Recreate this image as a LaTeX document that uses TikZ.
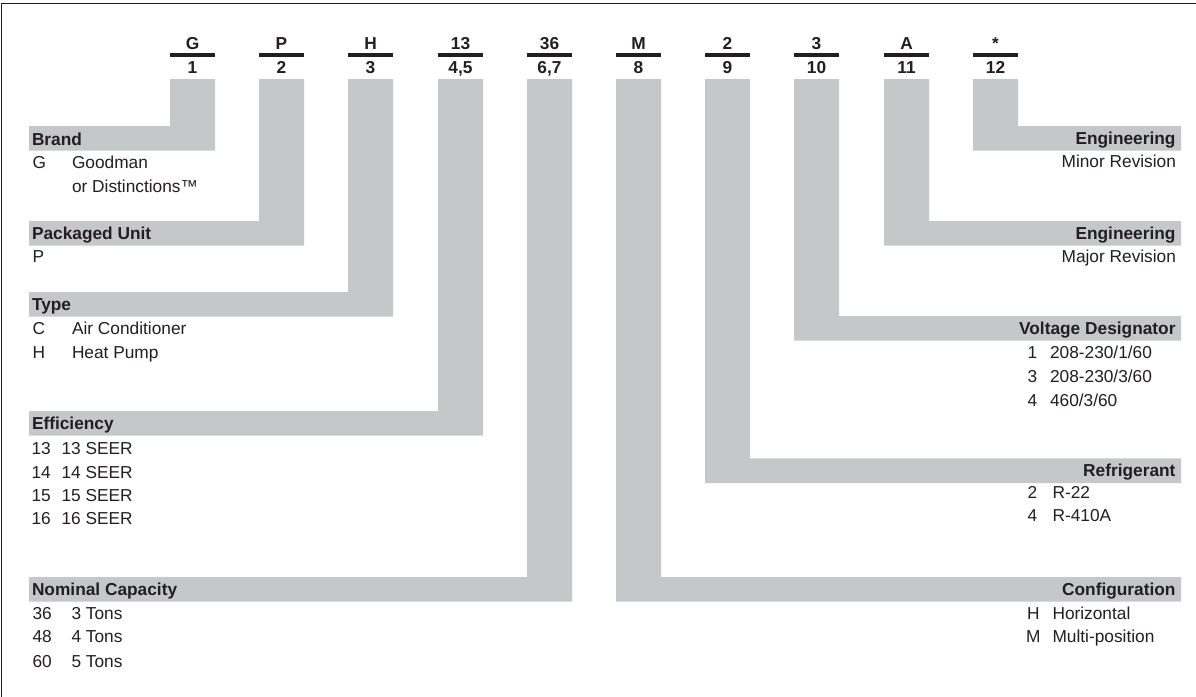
\documentclass[tikz,border=0pt]{standalone}
\usepackage{fontspec}
\setmainfont{Liberation Sans}
\definecolor{band}{RGB}{198,199,201}
\definecolor{ink}{RGB}{35,31,32}
\begin{document}
\begin{tikzpicture}[x=1pt,y=-1pt,
  every node/.style={inner sep=0pt, outer sep=0pt, text=ink, font=\fontsize{17.3}{20}\selectfont},
  hdr/.style={anchor=base, font=\fontsize{17.3}{20}\selectfont\bfseries},
  headl/.style={anchor=base west, font=\fontsize{17.3}{20}\selectfont\bfseries},
  headr/.style={anchor=base east, font=\fontsize{17.3}{20}\selectfont\bfseries},
  itl/.style={anchor=base west},
  itr/.style={anchor=base east},
  bandfill/.style={fill=band, draw=none}]
\useasboundingbox (0,0) rectangle (1196,696);
\fill[white] (0,0) rectangle (1196,696);
\draw[ink, line width=1.6pt] (1.5,697) -- (1.5,3.5) -- (1197,3.5);

% header columns
\foreach \i/\x/\c/\n in {1/170/G/1, 2/259/P/2, 3/348/H/3, 4/438/13/{4,5}, 5/527/36/{6,7},
                        6/616/M/8, 7/705/2/9, 8/794/3/10, 9/884/A/11, 10/973/*/12} {
  \node[hdr] (c\i) at (\x+22.5,49.7) {\c};
  \fill[ink] (\x,52.7) rectangle (\x+45,57.3);
  \node[hdr] (n\i) at (\x+22.5,73.7) {\n};
}

% left bands
\foreach \x/\t in {170/126, 259/221, 348/292, 438/411, 527/577} {
  \fill[bandfill] (\x,79) -- (\x+45,79) -- (\x+45,\t+24.7) -- (29,\t+24.7) -- (29,\t) -- (\x,\t) -- cycle;
}
% right bands
\foreach \x/\t in {973/126, 884/221, 794/316, 705/458.3, 616/577} {
  \fill[bandfill] (\x,79) -- (\x+45,79) -- (\x+45,\t) -- (1181,\t) -- (1181,\t+24.7) -- (\x,\t+24.7) -- cycle;
}

% Brand
\node[headl] (brand) at (32,145.2) {Brand};
\node[itl] (brandG) at (32.5,168.9) {G};
\node[itl] (brandGv) at (72,168.9) {Goodman};
\node[itl] (brandD) at (72,192.9) {or Distinctions™};
% Packaged unit
\node[headl] (pack) at (32,239.7) {Packaged Unit};
\node[itl] (packP) at (32.5,262.9) {P};
% Type
\node[headl] (type) at (32,310.7) {Type};
\node[itl] (typeC) at (32.5,334.5) {C};
\node[itl] (typeCv) at (72,334.5) {Air Conditioner};
\node[itl] (typeH) at (32.5,358.9) {H};
\node[itl] (typeHv) at (72,358.9) {Heat Pump};
% Efficiency
\node[headl] (eff) at (32,429.7) {Efficiency};
\foreach \k/\yy in {13/454.5, 14/478.5, 15/501.7, 16/524.9} {
  \node[itl] (eff\k) at (31.5,\yy) {\k};
  \node[itl] (eff\k v) at (61.5,\yy) {\k\ SEER};
}
% Nominal capacity
\node[headl] (cap) at (32,595.7) {Nominal Capacity};
\foreach \k/\v/\yy in {36/3/619.5, 48/4/642.9, 60/5/667.2} {
  \node[itl] (cap\k) at (32.5,\yy) {\k};
  \node[itl] (cap\k v) at (71.5,\yy) {\v\ Tons};
}

% right side
\node[headr] (engmin) at (1175.5,144.7) {Engineering};
\node[itr] (engminv) at (1176,167.9) {Minor Revision};
\node[headr] (engmaj) at (1175.5,239.7) {Engineering};
\node[itr] (engmajv) at (1176,262.9) {Major Revision};
\node[headr] (volt) at (1175.5,334.7) {Voltage Designator};
\foreach \k/\v/\yy in {1/208-230\slash 1\slash 60/358.9, 3/208-230\slash 3\slash 60/382.9, 4/460\slash 3\slash 60/406.2} {
  \node[itl] (volt\k) at (1027.5,\yy) {\k};
  \node[itl] (volt\k v) at (1050,\yy) {\v};
}
\node[headr] (refr) at (1175.5,476.9) {Refrigerant};
\node[itl] (refr2) at (1027.5,498.7) {2};
\node[itl] (refr2v) at (1052.5,498.7) {R-22};
\node[itl] (refr4) at (1027.5,521.4) {4};
\node[itl] (refr4v) at (1052.5,521.4) {R-410A};
\node[headr] (conf) at (1175.5,595.7) {Configuration};
\node[itl] (confH) at (1027,619.5) {H};
\node[itl] (confHv) at (1052.5,619.5) {Horizontal};
\node[itl] (confM) at (1026,642.9) {M};
\node[itl] (confMv) at (1052.5,642.9) {Multi-position};
\end{tikzpicture}
\end{document}
